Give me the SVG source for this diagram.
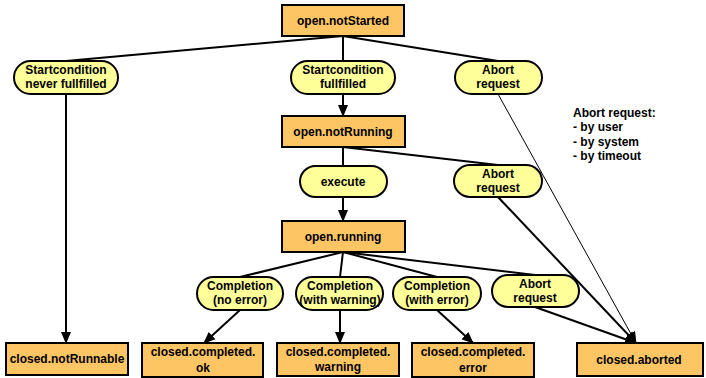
<svg xmlns="http://www.w3.org/2000/svg" width="706" height="378" viewBox="0 0 706 378">
<style>
.st{fill:#FDC563;stroke:#000;stroke-width:2}
.ev{fill:#FFFF99;stroke:#000;stroke-width:2}
text{font-family:"Liberation Sans",Arial,sans-serif;font-weight:bold;font-size:12px;fill:#000;text-anchor:middle}
.note{text-anchor:start}
.c{stroke:#000;stroke-width:2;fill:none}
.thin{stroke:#000;stroke-width:1;fill:none}
</style>
<defs>
<marker id="ah" markerUnits="userSpaceOnUse" markerWidth="12" markerHeight="12" refX="11" refY="5" orient="auto" viewBox="0 0 12 10">
<path d="M0,0 L12,5 L0,10 z" fill="#000"/>
</marker>
</defs>
<rect width="706" height="378" fill="#fff"/>
<g id="connectors">
<line class="c" x1="343" y1="36" x2="66" y2="61"/>
<line class="c" x1="343" y1="36" x2="343" y2="61"/>
<line class="c" x1="343" y1="36" x2="498" y2="61"/>
<line class="c" x1="66" y1="94" x2="66" y2="343" marker-end="url(#ah)"/>
<line class="c" x1="343" y1="94" x2="343" y2="116" marker-end="url(#ah)"/>
<line class="thin" x1="498" y1="94" x2="636" y2="343" marker-end="url(#ah)"/>
<line class="c" x1="343" y1="147" x2="343" y2="166"/>
<line class="c" x1="343" y1="147" x2="498" y2="165"/>
<line class="c" x1="343" y1="197" x2="343" y2="221" marker-end="url(#ah)"/>
<line class="c" x1="498" y1="197" x2="636" y2="343" marker-end="url(#ah)"/>
<line class="c" x1="343" y1="252" x2="240" y2="277"/>
<line class="c" x1="343" y1="252" x2="340" y2="277"/>
<line class="c" x1="343" y1="252" x2="437" y2="277"/>
<line class="c" x1="343" y1="252" x2="535" y2="275"/>
<line class="c" x1="240" y1="310" x2="204" y2="343" marker-end="url(#ah)"/>
<line class="c" x1="340" y1="310" x2="340" y2="343" marker-end="url(#ah)"/>
<line class="c" x1="437" y1="310" x2="473" y2="343" marker-end="url(#ah)"/>
<line class="c" x1="535" y1="307" x2="636" y2="343" marker-end="url(#ah)"/>
</g>
<g id="openNotStarted"><rect class="st" x="282" y="5" width="122" height="31"/><text x="343" y="25">open.notStarted</text></g>
<g id="startNever"><rect class="ev" x="14" y="61" width="104" height="33" rx="16.5"/><text x="66" y="74">Startcondition</text><text x="66" y="88">never fullfilled</text></g>
<g id="startFull"><rect class="ev" x="291" y="61" width="104" height="33" rx="16.5"/><text x="343" y="74">Startcondition</text><text x="343" y="88">fullfilled</text></g>
<g id="abort1"><rect class="ev" x="455" y="61" width="87" height="33" rx="16.5"/><text x="498" y="74">Abort</text><text x="498" y="88">request</text></g>
<g id="openNotRunning"><rect class="st" x="282" y="116" width="123" height="31"/><text x="343" y="136">open.notRunning</text></g>
<g id="execute"><rect class="ev" x="300" y="166" width="87" height="31" rx="15.5"/><text x="343" y="186">execute</text></g>
<g id="abort2"><rect class="ev" x="454" y="165" width="88" height="32" rx="16"/><text x="498" y="178">Abort</text><text x="498" y="192">request</text></g>
<g id="openRunning"><rect class="st" x="282" y="221" width="123" height="31"/><text x="343" y="241">open.running</text></g>
<g id="complNoErr"><rect class="ev" x="197" y="277" width="86" height="33" rx="16.5"/><text x="240" y="290">Completion</text><text x="240" y="304">(no error)</text></g>
<g id="complWarn"><rect class="ev" x="296" y="277" width="87" height="33" rx="16.5"/><text x="340" y="290">Completion</text><text x="340" y="304">(with warning)</text></g>
<g id="complErr"><rect class="ev" x="393" y="277" width="88" height="33" rx="16.5"/><text x="437" y="290">Completion</text><text x="437" y="304">(with error)</text></g>
<g id="abort3"><rect class="ev" x="492" y="275" width="87" height="32" rx="16"/><text x="535" y="288">Abort</text><text x="535" y="302">request</text></g>
<g id="closedNotRunnable"><rect class="st" x="6" y="343" width="122" height="32"/><text x="67" y="363">closed.notRunnable</text></g>
<g id="closedOk"><rect class="st" x="142" y="343" width="121" height="34"/><text x="203" y="356">closed.completed.</text><text x="203" y="372">ok</text></g>
<g id="closedWarn"><rect class="st" x="277" y="343" width="122" height="33"/><text x="338" y="356">closed.completed.</text><text x="338" y="371">warning</text></g>
<g id="closedErr"><rect class="st" x="412" y="343" width="122" height="34"/><text x="473" y="356">closed.completed.</text><text x="473" y="372">error</text></g>
<g id="closedAborted"><rect class="st" x="577" y="343" width="126" height="33" /><text x="639" y="364">closed.aborted</text></g>
<g id="note">
<text class="note" x="573" y="117">Abort request:</text>
<text class="note" x="573" y="131">- by user</text>
<text class="note" x="573" y="146">- by system</text>
<text class="note" x="573" y="160">- by timeout</text>
</g>
</svg>
